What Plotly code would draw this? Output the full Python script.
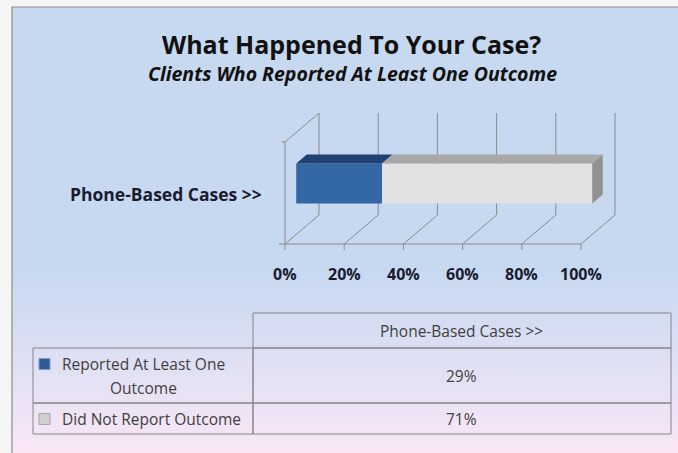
import base64
import plotly.graph_objects as go

# ---------------- data ----------------
categories = ["Phone-Based Cases >>"]
series_names = ["Reported At Least One<br>Outcome", "Did Not Report Outcome"]
reported = [29]
not_reported = [71]
tick_values = [0, 20, 40, 60, 80, 100]
tick_labels = ["0%", "20%", "40%", "60%", "80%", "100%"]

# ---------------- styling / geometry (layout only) ----------------
W, H = 678, 453
PX_PER_PCT = 2.96
PX0 = 285                      # pixel of 0% on front plane
FLOOR = H - 244                # y (px-up units) of front floor
TOP = H - 142                  # y of front top of wall
CAT_Y = (FLOOR + TOP) / 2      # category center on front plane
DX = 34 / PX_PER_PCT           # depth offset in % units
DY = 29                        # depth offset in y units
F_FRONT, F_BACK = 0.33, 0.64   # bar depth fractions
BAR_HALF = 20
GRID = "#8a8a8a"
FONT = "Open Sans"

face_cols = ["#3467a6", "#e2e2e2"]
top_cols = ["#1f4272", "#a8a8a8"]
side_col = "#929292"
key_cols = ["#2f5b96", "#cfcfcf"]
key_edge = ["#7c9ccc", "#a8a8a8"]

fig = go.Figure()

# ---- gridlines / walls as shapes under the bars ----
shapes = []
def seg(x0, y0, x1, y1):
    shapes.append(dict(type="line", xref="x", yref="y", x0=x0, y0=y0, x1=x1, y1=y1,
                       line=dict(color=GRID, width=1), layer="below"))

for t in tick_values:
    seg(t + DX, FLOOR + DY, t + DX, TOP + DY)      # back wall line
    seg(t, FLOOR, t + DX, FLOOR + DY)              # floor diagonal
    seg(t, FLOOR, t, FLOOR - 6)                    # tick mark
seg(tick_values[0], FLOOR, tick_values[-1], FLOOR)  # front floor edge
seg(0, FLOOR, 0, TOP)                               # front left wall edge
seg(0, TOP, DX, TOP + DY)                           # top of side wall
seg(-1.2, TOP, 0, TOP)
seg(-2, FLOOR, 0, FLOOR)

# ---- bars ----
yc = CAT_Y + F_FRONT * DY
ofs_f = F_FRONT * DX
ofs_b = F_BACK * DX
dyb = (F_BACK - F_FRONT) * DY
series = [reported, not_reported]
base = 0
for i, vals in enumerate(series):
    v = vals[0]
    fig.add_trace(go.Bar(orientation="h", y=[yc], x=[v], base=[base + ofs_f], width=2 * BAR_HALF,
                         marker=dict(color=face_cols[i], line=dict(width=0)),
                         showlegend=False, hoverinfo="skip"))
    x0 = base + ofs_f
    x1 = x0 + v
    yt = yc + BAR_HALF
    fig.add_trace(go.Scatter(x=[x0, x1, x1 + (ofs_b - ofs_f), x0 + (ofs_b - ofs_f), x0],
                             y=[yt, yt, yt + dyb, yt + dyb, yt], mode="lines", fill="toself",
                             fillcolor=top_cols[i], line=dict(width=0), showlegend=False,
                             hoverinfo="skip"))
    base += v
# right side face
xe = base + ofs_f
yb = yc - BAR_HALF
yt = yc + BAR_HALF
fig.add_trace(go.Scatter(x=[xe, xe, xe + (ofs_b - ofs_f), xe + (ofs_b - ofs_f), xe],
                         y=[yb, yt, yt + dyb, yb + dyb, yb], mode="lines", fill="toself",
                         fillcolor=side_col, line=dict(width=0), showlegend=False,
                         hoverinfo="skip"))

# ---- annotations ----
ann = []
for t, lab in zip(tick_values, tick_labels):
    ann.append(dict(x=t, y=H - 274, xref="x", yref="y", text=f"<b>{lab}</b>", showarrow=False,
                    xanchor="center", yanchor="middle", font=dict(family=FONT, size=16, color="#1b1b30")))
ann.append(dict(x=(264 - PX0) / PX_PER_PCT, y=CAT_Y - 1, xref="x", yref="y", text=f"<b>{categories[0]}</b>",
                showarrow=False, xanchor="right", yanchor="middle",
                font=dict(family=FONT, size=17.5, color="#1b1b30")))

def px(x):
    return x / W
def py(y):
    return 1 - y / H

ann.append(dict(x=px(351), y=py(44), xref="paper", yref="paper", text="<b>What Happened To Your Case?</b>",
                showarrow=False, xanchor="center", yanchor="middle",
                font=dict(family=FONT, size=25, color="#111111")))
ann.append(dict(x=px(352), y=py(74), xref="paper", yref="paper",
                text="<b><i>Clients Who Reported At Least One Outcome</i></b>",
                showarrow=False, xanchor="center", yanchor="middle",
                font=dict(family=FONT, size=19.5, color="#111111")))

# ---- data table (grid + text) ----
COL_X = [33, 253, 671]
ROW_Y = [313, 348, 403, 434]
TLINE = dict(color="#858585", width=1)
TFONT = dict(family=FONT, size=15.5, color="#404040")
LINE_PITCH = 24

# header box (only value column)
shapes.append(dict(type="rect", xref="paper", yref="paper", x0=px(COL_X[1]), x1=px(COL_X[2]),
                   y0=py(ROW_Y[1]), y1=py(ROW_Y[0]), line=TLINE, fillcolor="rgba(0,0,0,0)"))
ann.append(dict(x=px((COL_X[1] + COL_X[2]) / 2), y=py((ROW_Y[0] + ROW_Y[1]) / 2), xref="paper",
                yref="paper", text=categories[0], showarrow=False, xanchor="center",
                yanchor="middle", font=TFONT))
values_by_row = [reported[0], not_reported[0]]
for r, name in enumerate(series_names):
    top, bot = ROW_Y[r + 1], ROW_Y[r + 2]
    for c in range(2):
        shapes.append(dict(type="rect", xref="paper", yref="paper", x0=px(COL_X[c]), x1=px(COL_X[c + 1]),
                           y0=py(bot), y1=py(top), line=TLINE, fillcolor="rgba(0,0,0,0)"))
    mid = (top + bot) / 2
    lines = name.split("<br>")
    first_y = mid - (len(lines) - 1) * LINE_PITCH / 2
    label_cx = (COL_X[0] + COL_X[1]) / 2 + (0 if len(lines) > 1 else 8)
    for k, ln in enumerate(lines):
        ann.append(dict(x=px(label_cx), y=py(first_y + k * LINE_PITCH), xref="paper", yref="paper",
                        text=ln, showarrow=False, xanchor="center", yanchor="middle", font=TFONT))
    # legend key square
    shapes.append(dict(type="rect", xref="paper", yref="paper", x0=px(COL_X[0] + 6), x1=px(COL_X[0] + 17),
                       y0=py(first_y + 6), y1=py(first_y - 5), fillcolor=key_cols[r],
                       line=dict(color=key_edge[r], width=1)))
    ann.append(dict(x=px((COL_X[1] + COL_X[2]) / 2), y=py(mid), xref="paper", yref="paper",
                    text=f"{values_by_row[r]}%", showarrow=False, xanchor="center", yanchor="middle",
                    font=TFONT))

# ---- background gradient ----
svg = ('<svg xmlns="http://www.w3.org/2000/svg" width="100" height="100" viewBox="0 0 100 100" '
       'preserveAspectRatio="none"><defs><linearGradient id="g" x1="0" y1="0" x2="0" y2="1">'
       '<stop offset="0" stop-color="#c6d9f0"/><stop offset="0.58" stop-color="#c6d9f0"/>'
       '<stop offset="1" stop-color="#fbe7f7"/></linearGradient></defs>'
       '<rect width="100" height="100" fill="url(#g)"/></svg>')
src = "data:image/svg+xml;base64," + base64.b64encode(svg.encode()).decode()

shapes.append(dict(type="rect", xref="paper", yref="paper", x0=px(12), y0=-0.05, x1=1.05, y1=py(7),
                   line=dict(color="#8c8c8c", width=1.2), fillcolor="rgba(0,0,0,0)", layer="above"))

fig.update_layout(
    width=W, height=H, margin=dict(l=0, r=0, t=0, b=0),
    paper_bgcolor="#f5f5f5", plot_bgcolor="rgba(0,0,0,0)",
    barmode="overlay",
    xaxis=dict(range=[-PX0 / PX_PER_PCT, (W - PX0) / PX_PER_PCT], visible=False, fixedrange=True),
    yaxis=dict(range=[0, H], visible=False, fixedrange=True),
    shapes=shapes, annotations=ann,
    images=[dict(source=src, xref="paper", yref="paper", x=px(12), y=py(7), sizex=1.0, sizey=1.0,
                 xanchor="left", yanchor="top", sizing="stretch", layer="below")],
    showlegend=False,
)

fig.write_html("out.html", config={"displayModeBar": False},
               post_script="document.body.style.margin='0';document.body.style.overflow='hidden';")
